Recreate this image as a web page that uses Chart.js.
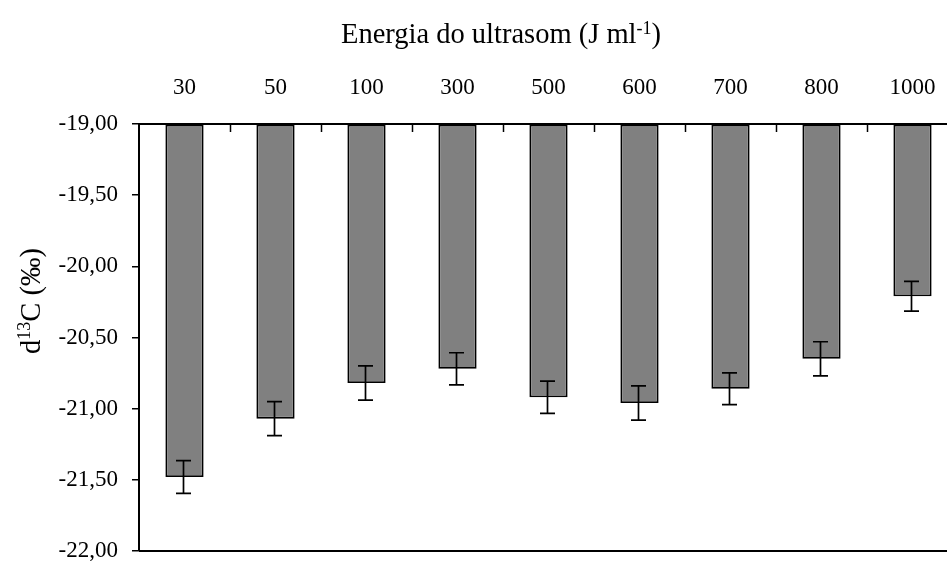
<!DOCTYPE html>
<html>
<head>
<meta charset="utf-8">
<script src="https://cdn.jsdelivr.net/npm/chart.js@4.4.0/dist/chart.umd.min.js"></script>
<style>
  html, body { margin: 0; padding: 0; background: #fff; overflow: hidden; }
  #wrap { width: 960px; height: 566px; }
</style>
</head>
<body>
<div id="wrap"><canvas id="c" width="960" height="566"></canvas></div>
<script>
// Ultrasound energy levels (J ml-1)
const categories = ['30', '50', '100', '300', '500', '600', '700', '800', '1000'];
// Mean d13C (‰) per energy level
const values = [-21.48, -21.07, -20.82, -20.72, -20.92, -20.96, -20.86, -20.65, -20.21];
// Standard deviation per energy level
const errors = [0.115, 0.12, 0.12, 0.113, 0.113, 0.12, 0.112, 0.12, 0.105];
// Value axis tick positions
const yTicks = [-22, -21.5, -21, -20.5, -20, -19.5, -19];

const SERIF = "'Liberation Serif', 'Times New Roman', serif";

// Draws text centred on the origin with one superscript segment: [before, sup, after]
function drawSupText(ctx, parts, size, supSize, supRise) {
  const [a, s, b] = parts;
  ctx.font = size + 'px ' + SERIF;
  const wa = ctx.measureText(a).width;
  const wb = ctx.measureText(b).width;
  ctx.font = supSize + 'px ' + SERIF;
  const ws = ctx.measureText(s).width;
  const total = wa + ws + wb;
  let x = -total / 2;
  ctx.textAlign = 'left';
  ctx.textBaseline = 'alphabetic';
  ctx.font = size + 'px ' + SERIF;
  ctx.fillText(a, x, 0); x += wa;
  ctx.font = supSize + 'px ' + SERIF;
  ctx.fillText(s, x, -supRise); x += ws;
  ctx.font = size + 'px ' + SERIF;
  ctx.fillText(b, x, 0);
}

const decor = {
  id: 'decor',
  afterDatasetsDraw(chart) {
    const { ctx, chartArea: a, scales: { x, y } } = chart;
    ctx.save();
    ctx.strokeStyle = '#000';
    ctx.lineWidth = 1.7;
    // error bars
    values.forEach((v, i) => {
      const cx = x.getPixelForValue(i) - 1;
      const y1 = y.getPixelForValue(v + errors[i]);
      const y2 = y.getPixelForValue(v - errors[i]);
      const half = 7.5;
      ctx.beginPath();
      ctx.moveTo(cx, y1); ctx.lineTo(cx, y2);
      ctx.moveTo(cx - half, y1); ctx.lineTo(cx + half, y1);
      ctx.moveTo(cx - half, y2); ctx.lineTo(cx + half, y2);
      ctx.stroke();
    });
    // inward tick marks between categories on the top axis
    ctx.lineWidth = 1.5;
    for (let i = 1; i < categories.length; i++) {
      const tx = Math.round((x.getPixelForValue(i - 1) + x.getPixelForValue(i)) / 2) + 0.5;
      ctx.beginPath();
      ctx.moveTo(tx, a.top);
      ctx.lineTo(tx, a.top + 8);
      ctx.stroke();
    }
    // bottom frame line at the axis minimum
    ctx.lineWidth = 2;
    const yb = y.getPixelForValue(-22);
    ctx.beginPath();
    ctx.moveTo(a.left, yb);
    ctx.lineTo(a.right, yb);
    ctx.stroke();
    ctx.restore();
  },
  afterDraw(chart) {
    const ctx = chart.ctx;
    ctx.save();
    ctx.fillStyle = '#000';
    // category axis title
    ctx.translate(501, 43);
    drawSupText(ctx, ['Energia do ultrasom (J ml', '-1', ')'], 28.5, 18, 9);
    ctx.restore();
    ctx.save();
    ctx.fillStyle = '#000';
    // value axis title, rotated
    ctx.translate(40, 301);
    ctx.rotate(-Math.PI / 2);
    drawSupText(ctx, ['d', '13', 'C (‰)'], 28.5, 18, 10);
    ctx.restore();
  }
};

new Chart(document.getElementById('c'), {
  type: 'bar',
  data: {
    labels: categories,
    datasets: [{
      data: values,
      base: -19,
      backgroundColor: '#808080',
      borderColor: '#000',
      borderWidth: 1.8,
      borderSkipped: false,
      barPercentage: 0.42,
      categoryPercentage: 1
    }]
  },
  options: {
    responsive: false,
    devicePixelRatio: 1,
    animation: false,
    layout: { autoPadding: false, padding: { left: 0, top: 0, right: 2, bottom: 15 } },
    plugins: { legend: { display: false }, tooltip: { enabled: false } },
    scales: {
      x: {
        position: 'top',
        grid: { display: false, drawTicks: false },
        border: { display: true, color: '#000', width: 2 },
        ticks: { color: '#000', font: { family: SERIF, size: 23 }, padding: 22, maxRotation: 0 },
        afterFit(s) { s.height = 124; s.paddingLeft = 0; s.paddingRight = 0; }
      },
      y: {
        min: -22,
        max: -19,
        afterBuildTicks(s) { s.ticks = yTicks.map(v => ({ value: v })); },
        grid: { display: true, drawOnChartArea: false, drawTicks: true, tickLength: 7, color: '#000', lineWidth: 1.5 },
        border: { display: true, color: '#000', width: 2 },
        ticks: {
          color: '#000',
          font: { family: SERIF, size: 23 },
          padding: 14,
          callback: v => v.toFixed(2).replace('.', ',')
        },
        afterFit(s) { s.width = 139; s.paddingTop = 0; s.paddingBottom = 0; }
      }
    }
  },
  plugins: [decor]
});
</script>
</body>
</html>
